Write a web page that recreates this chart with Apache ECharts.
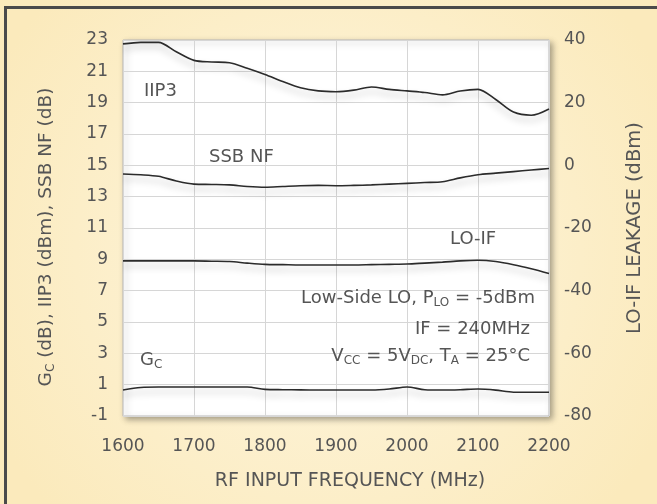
<!DOCTYPE html>
<html><head><meta charset="utf-8">
<script src="https://cdn.jsdelivr.net/npm/echarts@6/dist/echarts.min.js"></script>
<style>html,body{margin:0;padding:0;background:#fcf0cd}#c{width:657px;height:504px}</style>
</head><body><div id="c"></div><script>
// RF input frequency (MHz)
const freq = [1600,1625,1650,1675,1700,1725,1750,1775,1800,1825,1850,1875,1900,1925,1950,1975,2000,2025,2050,2075,2100,2125,2150,2175,2200];
// IIP3 (dBm) - left axis
const iip3 = [22.75,22.85,22.85,22.25,21.7,21.6,21.55,21.2,20.8,20.35,19.95,19.75,19.7,19.8,20.0,19.85,19.75,19.65,19.5,19.75,19.85,19.2,18.4,18.2,18.6];
// SSB NF (dB) - left axis
const ssbNF = [14.45,14.4,14.3,14.0,13.8,13.78,13.75,13.65,13.6,13.65,13.7,13.72,13.7,13.72,13.75,13.8,13.85,13.9,13.95,14.2,14.4,14.5,14.6,14.7,14.8];
// LO-IF leakage (dBm) - right axis
const loIF = [-30.5,-30.5,-30.5,-30.5,-30.5,-30.6,-30.7,-31.2,-31.6,-31.7,-31.8,-31.8,-31.8,-31.8,-31.7,-31.6,-31.5,-31.2,-30.9,-30.5,-30.3,-30.7,-31.7,-33.0,-34.5];
// Conversion gain Gc (dB) - left axis
const gc = [0.66,0.82,0.85,0.85,0.85,0.85,0.85,0.85,0.7,0.68,0.67,0.66,0.66,0.66,0.66,0.72,0.85,0.68,0.66,0.68,0.72,0.65,0.52,0.52,0.52];
// tick labels
const leftTicks = [-1,1,3,5,7,9,11,13,15,17,19,21,23];
const rightTicks = [-80,-60,-40,-20,0,20,40];
const xTicks = [1600,1700,1800,1900,2000,2100,2200];

const FONT = 'DejaVu Sans';
const TXT = '#555';
const chart = echarts.init(document.getElementById('c'), null, {renderer:'canvas'});
const pairs = (ys) => freq.map((f,i) => [f, ys[i]]);
const lineStyle = {color:'#2b2b2b', width:1.6, shadowColor:'rgba(0,0,0,0.28)', shadowBlur:7, shadowOffsetY:5};
function mk(name, ys, yIdx){
  return {name, type:'line', yAxisIndex:yIdx, data:pairs(ys), smooth:0.3, symbol:'none', lineStyle, z:3};
}
const subRich = {
  n:{fontFamily:FONT, fontSize:18.5, color:TXT},
  s:{fontFamily:FONT, fontSize:12, color:TXT, padding:[9,0,0,0]}
};
const gRich = {
  n:{fontFamily:FONT, fontSize:18, fill:TXT},
  s:{fontFamily:FONT, fontSize:12, fill:TXT, padding:[9,0,0,0]}
};
chart.setOption({
  backgroundColor:{type:'radial', x:0.5, y:0.5, r:0.75, colorStops:[{offset:0,color:'#fef6e0'},{offset:1,color:'#fbeabc'}]},
  animation:false,
  grid:{left:123, right:108, top:40, bottom:88, show:true, backgroundColor:'#ffffff', borderColor:'#b8b8b8', borderWidth:1,
        shadowColor:'rgba(0,0,0,0.35)', shadowBlur:6, shadowOffsetX:3, shadowOffsetY:3},
  xAxis:{type:'value', min:1600, max:2200, interval:100,
    axisLine:{show:false}, axisTick:{show:false},
    axisLabel:{margin:22, fontFamily:FONT, fontSize:17, color:TXT, customValues:xTicks, formatter:(v)=>String(v)},
    splitLine:{show:true, lineStyle:{color:'#d6d6d6', width:1}},
    name:'RF INPUT FREQUENCY (MHz)', nameLocation:'middle', nameGap:56,
    nameTextStyle:{fontFamily:FONT, fontSize:19, color:TXT, padding:[0,0,0,28]}},
  yAxis:[
    {type:'value', min:-1, max:23, position:'left',
      axisLine:{show:false}, axisTick:{show:false, customValues:leftTicks},
      axisLabel:{margin:15, fontFamily:FONT, fontSize:17, color:TXT, customValues:leftTicks},
      splitLine:{show:false},
      name:'{n|G}{s|C}{n| (dB), IIP3 (dBm), SSB NF (dB)}', nameLocation:'middle', nameGap:66, nameRotate:90,
      nameTextStyle:{fontFamily:FONT, fontSize:18.5, color:TXT, rich:subRich, padding:[0,18,0,0]}},
    {type:'value', min:-80, max:40, interval:10, position:'right',
      axisLine:{show:false}, axisTick:{show:false},
      axisLabel:{margin:15, fontFamily:FONT, fontSize:17, color:TXT, formatter:(v)=> rightTicks.indexOf(v) >= 0 ? String(v) : ''},
      splitLine:{show:true, lineStyle:{color:'#d6d6d6', width:1}},
      name:'LO-IF LEAKAGE (dBm)', nameLocation:'middle', nameGap:76, nameRotate:90,
      nameTextStyle:{fontFamily:FONT, fontSize:19.5, color:TXT}}
  ],
  series:[
    mk('IIP3', iip3, 0),
    mk('SSB NF', ssbNF, 0),
    mk('LO-IF', loIF, 1),
    mk('GC', gc, 0)
  ],
  graphic:[
    {type:'text', left:144, top:82, z:10, style:{text:'IIP3', fontFamily:FONT, fontSize:18, fill:TXT}},
    {type:'text', left:209, top:148, z:10, style:{text:'SSB NF', fontFamily:FONT, fontSize:18, fill:TXT}},
    {type:'text', left:450, top:230, z:10, style:{text:'LO-IF', fontFamily:FONT, fontSize:18, fill:TXT}},
    {type:'text', left:140, top:351, z:10, style:{text:'{n|G}{s|C}', rich:gRich}},
    {type:'text', right:122, top:289, z:10, style:{text:'{n|Low-Side LO, P}{s|LO}{n| = -5dBm}', rich:gRich}},
    {type:'text', right:127, top:320, z:10, style:{text:'IF = 240MHz', fontFamily:FONT, fontSize:18, fill:TXT}},
    {type:'text', right:127, top:347, z:10, style:{text:'{n|V}{s|CC}{n| = 5V}{s|DC}{n|, T}{s|A}{n| = 25°C}', rich:gRich}},
    {type:'rect', left:3, top:5, z:20, shape:{width:700, height:600}, style:{fill:'none', stroke:'#4a4a4a', lineWidth:3}}
  ]
});
</script></body></html>
